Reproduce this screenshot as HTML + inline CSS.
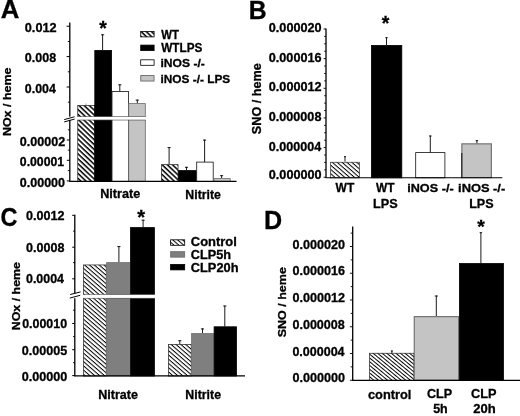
<!DOCTYPE html>
<html>
<head>
<meta charset="utf-8">
<title>Figure</title>
<style>
html,body{margin:0;padding:0;background:#fff;}
body{width:520px;height:416px;overflow:hidden;}
svg{display:block;font-family:"Liberation Sans",sans-serif;font-weight:bold;fill:#000;filter:grayscale(1) blur(0.35px);}
text{stroke:#000;stroke-width:0.3px;}
</style>
</head>
<body>
<svg width="520" height="416" viewBox="0 0 520 416">
<defs>
<pattern id="ha" patternUnits="userSpaceOnUse" width="3.57" height="3.57" patternTransform="rotate(43.5)">
<rect width="3.57" height="3.57" fill="#fff"/>
<rect width="3.57" height="1.5" fill="#000"/>
</pattern>
<pattern id="hb" patternUnits="userSpaceOnUse" width="3.2" height="3.2" patternTransform="rotate(41)">
<rect width="3.2" height="3.2" fill="#fff"/>
<rect width="3.2" height="1.0" fill="#000"/>
</pattern>
<pattern id="hd" patternUnits="userSpaceOnUse" width="2.9" height="2.9" patternTransform="rotate(39.5)">
<rect width="2.9" height="2.9" fill="#fff"/>
<rect width="2.9" height="0.95" fill="#000"/>
</pattern>
</defs>
<rect width="520" height="416" fill="#fff"/>
<text transform="translate(0.86 18.40) scale(1.006 1)" font-size="25.60">A</text>
<line x1="69.80" y1="22.60" x2="69.80" y2="181.60" stroke="#000" stroke-width="1.3"/>
<line x1="66.60" y1="26.25" x2="69.80" y2="26.25" stroke="#000" stroke-width="1"/>
<line x1="66.60" y1="56.60" x2="69.80" y2="56.60" stroke="#000" stroke-width="1"/>
<line x1="66.60" y1="87.00" x2="69.80" y2="87.00" stroke="#000" stroke-width="1"/>
<line x1="67.80" y1="41.50" x2="69.80" y2="41.50" stroke="#000" stroke-width="0.9"/>
<line x1="67.80" y1="71.80" x2="69.80" y2="71.80" stroke="#000" stroke-width="0.9"/>
<line x1="67.80" y1="102.20" x2="69.80" y2="102.20" stroke="#000" stroke-width="0.9"/>
<line x1="66.80" y1="140.00" x2="69.80" y2="140.00" stroke="#000" stroke-width="1"/>
<line x1="66.80" y1="160.30" x2="69.80" y2="160.30" stroke="#000" stroke-width="1"/>
<line x1="66.80" y1="180.90" x2="69.80" y2="180.90" stroke="#000" stroke-width="1"/>
<line x1="67.80" y1="129.80" x2="69.80" y2="129.80" stroke="#000" stroke-width="0.9"/>
<line x1="67.80" y1="150.10" x2="69.80" y2="150.10" stroke="#000" stroke-width="0.9"/>
<line x1="67.80" y1="170.60" x2="69.80" y2="170.60" stroke="#000" stroke-width="0.9"/>
<text transform="translate(24.79 32.27) scale(1.013 1)" font-size="12.58">0.012</text>
<text transform="translate(24.80 62.07) scale(0.997 1)" font-size="12.58">0.008</text>
<text transform="translate(24.80 92.67) scale(0.987 1)" font-size="12.58">0.004</text>
<text transform="translate(19.80 145.58) scale(1.010 1)" font-size="12.44">0.00002</text>
<text transform="translate(19.81 166.28) scale(0.987 1)" font-size="12.44">0.00001</text>
<text transform="translate(19.80 187.38) scale(1.006 1)" font-size="12.44">0.00000</text>
<text transform="translate(11.16 136.04) rotate(-90) scale(1.054 1)" font-size="11.81">NOx / heme</text>
<line x1="86.00" y1="103.60" x2="86.00" y2="105.30" stroke="#777" stroke-width="0.8"/>
<rect x="77.75" y="105.45" width="16.90" height="76.00" fill="url(#ha)" stroke="#222" stroke-width="0.7"/>
<line x1="102.60" y1="34.40" x2="102.60" y2="50.00" stroke="#000" stroke-width="0.9"/>
<line x1="101.05" y1="34.80" x2="104.15" y2="34.80" stroke="#000" stroke-width="0.9"/>
<rect x="94.80" y="50.40" width="16.80" height="131.00" fill="#000" stroke="#000" stroke-width="0.8"/>
<line x1="119.80" y1="84.40" x2="119.80" y2="91.30" stroke="#000" stroke-width="0.9"/>
<line x1="118.25" y1="84.80" x2="121.35" y2="84.80" stroke="#000" stroke-width="0.9"/>
<rect x="112.00" y="91.50" width="16.40" height="89.90" fill="#fff" stroke="#111" stroke-width="0.8"/>
<line x1="137.30" y1="99.70" x2="137.30" y2="103.40" stroke="#000" stroke-width="0.9"/>
<line x1="135.75" y1="100.10" x2="138.85" y2="100.10" stroke="#000" stroke-width="0.9"/>
<rect x="128.70" y="103.60" width="16.60" height="77.80" fill="#c4c4c4" stroke="#6a6a6a" stroke-width="0.8"/>
<line x1="169.10" y1="147.20" x2="169.10" y2="164.40" stroke="#000" stroke-width="0.9"/>
<line x1="167.55" y1="147.60" x2="170.65" y2="147.60" stroke="#000" stroke-width="0.9"/>
<rect x="161.35" y="164.65" width="16.70" height="16.80" fill="url(#ha)" stroke="#222" stroke-width="0.7"/>
<line x1="186.50" y1="166.90" x2="186.50" y2="170.30" stroke="#000" stroke-width="0.9"/>
<line x1="184.95" y1="167.30" x2="188.05" y2="167.30" stroke="#000" stroke-width="0.9"/>
<rect x="178.50" y="170.60" width="17.70" height="10.80" fill="#000" stroke="#000" stroke-width="0.8"/>
<line x1="204.60" y1="139.70" x2="204.60" y2="162.00" stroke="#000" stroke-width="0.9"/>
<line x1="203.05" y1="140.10" x2="206.15" y2="140.10" stroke="#000" stroke-width="0.9"/>
<rect x="196.70" y="162.10" width="16.50" height="19.30" fill="#fff" stroke="#111" stroke-width="0.8"/>
<line x1="221.60" y1="175.30" x2="221.60" y2="178.40" stroke="#000" stroke-width="0.9"/>
<line x1="220.05" y1="175.70" x2="223.15" y2="175.70" stroke="#000" stroke-width="0.9"/>
<rect x="213.90" y="178.60" width="16.30" height="2.80" fill="#c4c4c4" stroke="#6a6a6a" stroke-width="0.8"/>
<line x1="69.30" y1="181.30" x2="236.50" y2="181.30" stroke="#000" stroke-width="1.2"/>
<rect x="62" y="116.7" width="86" height="3.2" fill="#fff"/>
<line x1="77.40" y1="116.50" x2="145.70" y2="116.50" stroke="#444" stroke-width="0.6"/>
<line x1="77.40" y1="120.10" x2="145.70" y2="120.10" stroke="#444" stroke-width="0.6"/>
<line x1="64.20" y1="119.60" x2="74.60" y2="116.80" stroke="#000" stroke-width="1"/>
<line x1="64.20" y1="121.90" x2="74.60" y2="119.10" stroke="#000" stroke-width="1"/>
<text transform="translate(100.15 198.07) scale(0.989 1)" font-size="12.79">Nitrate</text>
<text transform="translate(185.37 198.57) scale(0.962 1)" font-size="12.79">Nitrite</text>
<rect x="140.70" y="31.40" width="13.40" height="5.50" fill="url(#ha)" stroke="#000" stroke-width="0.8"/>
<rect x="140.70" y="45.10" width="13.40" height="5.50" fill="#000" stroke="#000" stroke-width="0.8"/>
<rect x="140.70" y="59.80" width="13.40" height="5.50" fill="#fff" stroke="#000" stroke-width="0.8"/>
<rect x="140.75" y="75.55" width="13.30" height="5.50" fill="#c4c4c4" stroke="#6a6a6a" stroke-width="0.9"/>
<text transform="translate(161.30 38.60) scale(0.927 1)" font-size="12.22">WT</text>
<text transform="translate(161.30 52.48) scale(0.954 1)" font-size="12.30">WTLPS</text>
<text transform="translate(160.45 67.47) scale(1.038 1)" font-size="11.68">iNOS -/-</text>
<text transform="translate(160.47 83.07) scale(1.015 1)" font-size="11.68">iNOS -/- LPS</text>
<text transform="translate(99.35 35.34) scale(0.968 1)" font-size="20.13">*</text>
<text transform="translate(248.63 18.70) scale(0.961 1)" font-size="25.75">B</text>
<line x1="326.00" y1="28.60" x2="326.00" y2="177.80" stroke="#000" stroke-width="1.3"/>
<line x1="323.60" y1="177.25" x2="326.00" y2="177.25" stroke="#000" stroke-width="0.9"/>
<line x1="324.20" y1="169.84" x2="326.00" y2="169.84" stroke="#000" stroke-width="0.9"/>
<line x1="324.20" y1="162.43" x2="326.00" y2="162.43" stroke="#000" stroke-width="0.9"/>
<line x1="324.20" y1="155.01" x2="326.00" y2="155.01" stroke="#000" stroke-width="0.9"/>
<line x1="323.60" y1="147.60" x2="326.00" y2="147.60" stroke="#000" stroke-width="0.9"/>
<line x1="324.20" y1="140.19" x2="326.00" y2="140.19" stroke="#000" stroke-width="0.9"/>
<line x1="324.20" y1="132.78" x2="326.00" y2="132.78" stroke="#000" stroke-width="0.9"/>
<line x1="324.20" y1="125.36" x2="326.00" y2="125.36" stroke="#000" stroke-width="0.9"/>
<line x1="323.60" y1="117.95" x2="326.00" y2="117.95" stroke="#000" stroke-width="0.9"/>
<line x1="324.20" y1="110.54" x2="326.00" y2="110.54" stroke="#000" stroke-width="0.9"/>
<line x1="324.20" y1="103.12" x2="326.00" y2="103.12" stroke="#000" stroke-width="0.9"/>
<line x1="324.20" y1="95.71" x2="326.00" y2="95.71" stroke="#000" stroke-width="0.9"/>
<line x1="323.60" y1="88.30" x2="326.00" y2="88.30" stroke="#000" stroke-width="0.9"/>
<line x1="324.20" y1="80.89" x2="326.00" y2="80.89" stroke="#000" stroke-width="0.9"/>
<line x1="324.20" y1="73.48" x2="326.00" y2="73.48" stroke="#000" stroke-width="0.9"/>
<line x1="324.20" y1="66.06" x2="326.00" y2="66.06" stroke="#000" stroke-width="0.9"/>
<line x1="323.60" y1="58.65" x2="326.00" y2="58.65" stroke="#000" stroke-width="0.9"/>
<line x1="324.20" y1="51.24" x2="326.00" y2="51.24" stroke="#000" stroke-width="0.9"/>
<line x1="324.20" y1="43.83" x2="326.00" y2="43.83" stroke="#000" stroke-width="0.9"/>
<line x1="324.20" y1="36.41" x2="326.00" y2="36.41" stroke="#000" stroke-width="0.9"/>
<line x1="323.60" y1="29.00" x2="326.00" y2="29.00" stroke="#000" stroke-width="0.9"/>
<text transform="translate(268.79 178.78) scale(1.018 1)" font-size="12.44">0.000000</text>
<text transform="translate(268.80 150.88) scale(1.010 1)" font-size="12.44">0.000004</text>
<text transform="translate(268.79 120.58) scale(1.016 1)" font-size="12.44">0.000008</text>
<text transform="translate(268.79 90.88) scale(1.018 1)" font-size="12.44">0.000012</text>
<text transform="translate(268.79 61.68) scale(1.017 1)" font-size="12.44">0.000016</text>
<text transform="translate(268.79 31.58) scale(1.018 1)" font-size="12.44">0.000020</text>
<text transform="translate(260.86 134.13) rotate(-90) scale(1.048 1)" font-size="12.08">SNO / heme</text>
<line x1="345.00" y1="156.30" x2="345.00" y2="161.60" stroke="#000" stroke-width="0.9"/>
<line x1="344.00" y1="156.70" x2="346.00" y2="156.70" stroke="#000" stroke-width="0.9"/>
<rect x="330.55" y="162.25" width="29.00" height="15.60" fill="url(#hb)" stroke="#333" stroke-width="0.7"/>
<line x1="386.50" y1="37.30" x2="386.50" y2="45.00" stroke="#000" stroke-width="0.9"/>
<line x1="385.30" y1="37.70" x2="387.70" y2="37.70" stroke="#000" stroke-width="0.9"/>
<rect x="371.40" y="45.40" width="30.40" height="132.40" fill="#000" stroke="#000" stroke-width="0.8"/>
<line x1="430.30" y1="135.60" x2="430.30" y2="152.60" stroke="#000" stroke-width="0.9"/>
<line x1="429.00" y1="136.00" x2="431.60" y2="136.00" stroke="#000" stroke-width="0.9"/>
<rect x="415.70" y="152.60" width="29.20" height="25.20" fill="#fff" stroke="#111" stroke-width="0.8"/>
<line x1="476.90" y1="140.30" x2="476.90" y2="143.60" stroke="#000" stroke-width="0.9"/>
<line x1="475.70" y1="140.70" x2="478.10" y2="140.70" stroke="#000" stroke-width="0.9"/>
<rect x="461.85" y="143.85" width="29.50" height="33.80" fill="#c4c4c4" stroke="#6a6a6a" stroke-width="1.1"/>
<line x1="461.80" y1="153.00" x2="461.80" y2="178.20" stroke="#111" stroke-width="1"/>
<line x1="325.50" y1="177.75" x2="502.30" y2="177.75" stroke="#000" stroke-width="1.15"/>
<text transform="translate(335.60 192.40) scale(0.962 1)" font-size="12.51">WT</text>
<text transform="translate(376.00 192.40) scale(0.952 1)" font-size="12.51">WT</text>
<text transform="translate(372.94 207.58) scale(1.031 1)" font-size="12.30">LPS</text>
<text transform="translate(407.21 192.17) scale(1.097 1)" font-size="11.54">iNOS -/-</text>
<text transform="translate(458.10 192.17) scale(1.114 1)" font-size="11.54">iNOS -/-</text>
<text transform="translate(469.15 207.58) scale(1.022 1)" font-size="12.30">LPS</text>
<text transform="translate(381.85 29.88) scale(1.001 1)" font-size="19.46">*</text>
<text transform="translate(0.56 226.04) scale(0.914 1)" font-size="25.72">C</text>
<line x1="74.80" y1="214.70" x2="74.80" y2="293.60" stroke="#000" stroke-width="1.3"/>
<line x1="74.80" y1="297.00" x2="74.80" y2="376.20" stroke="#000" stroke-width="1.3"/>
<line x1="72.20" y1="215.30" x2="74.80" y2="215.30" stroke="#000" stroke-width="1"/>
<line x1="72.20" y1="247.20" x2="74.80" y2="247.20" stroke="#000" stroke-width="1"/>
<line x1="72.20" y1="278.80" x2="74.80" y2="278.80" stroke="#000" stroke-width="1"/>
<line x1="73.00" y1="231.10" x2="74.80" y2="231.10" stroke="#000" stroke-width="0.9"/>
<line x1="73.00" y1="262.60" x2="74.80" y2="262.60" stroke="#000" stroke-width="0.9"/>
<line x1="72.20" y1="323.50" x2="74.80" y2="323.50" stroke="#000" stroke-width="1"/>
<line x1="72.20" y1="349.70" x2="74.80" y2="349.70" stroke="#000" stroke-width="1"/>
<line x1="72.20" y1="375.60" x2="74.80" y2="375.60" stroke="#000" stroke-width="1"/>
<line x1="73.00" y1="310.20" x2="74.80" y2="310.20" stroke="#000" stroke-width="0.9"/>
<line x1="73.00" y1="336.60" x2="74.80" y2="336.60" stroke="#000" stroke-width="0.9"/>
<line x1="73.00" y1="362.70" x2="74.80" y2="362.70" stroke="#000" stroke-width="0.9"/>
<text transform="translate(26.00 220.18) scale(1.012 1)" font-size="12.44">0.0012</text>
<text transform="translate(26.00 251.78) scale(1.009 1)" font-size="12.44">0.0008</text>
<text transform="translate(26.00 283.48) scale(1.012 1)" font-size="12.30">0.0004</text>
<text transform="translate(22.20 328.18) scale(1.022 1)" font-size="12.16">0.00010</text>
<text transform="translate(21.80 354.58) scale(1.023 1)" font-size="12.30">0.00005</text>
<text transform="translate(21.79 380.88) scale(1.015 1)" font-size="12.44">0.00000</text>
<text transform="translate(20.38 330.24) rotate(-90) scale(1.115 1)" font-size="11.14">NOx / heme</text>
<rect x="83.45" y="264.95" width="22.80" height="111.10" fill="url(#hb)" stroke="#222" stroke-width="0.7"/>
<line x1="118.90" y1="246.20" x2="118.90" y2="262.40" stroke="#000" stroke-width="0.9"/>
<line x1="117.35" y1="246.60" x2="120.45" y2="246.60" stroke="#000" stroke-width="0.9"/>
<rect x="106.60" y="262.60" width="23.20" height="113.40" fill="#7f7f7f" stroke="#707070" stroke-width="0.8"/>
<line x1="143.10" y1="219.80" x2="143.10" y2="227.40" stroke="#000" stroke-width="0.9"/>
<line x1="141.55" y1="220.20" x2="144.65" y2="220.20" stroke="#000" stroke-width="0.9"/>
<rect x="130.50" y="227.60" width="23.90" height="148.40" fill="#000" stroke="#000" stroke-width="0.8"/>
<line x1="179.80" y1="340.30" x2="179.80" y2="344.20" stroke="#000" stroke-width="0.9"/>
<line x1="178.25" y1="340.70" x2="181.35" y2="340.70" stroke="#000" stroke-width="0.9"/>
<rect x="168.45" y="344.35" width="22.80" height="31.70" fill="url(#hb)" stroke="#222" stroke-width="0.7"/>
<line x1="202.50" y1="328.50" x2="202.50" y2="333.30" stroke="#000" stroke-width="0.9"/>
<line x1="200.95" y1="328.90" x2="204.05" y2="328.90" stroke="#000" stroke-width="0.9"/>
<rect x="191.60" y="333.50" width="21.90" height="42.50" fill="#7f7f7f" stroke="#707070" stroke-width="0.8"/>
<line x1="224.80" y1="305.60" x2="224.80" y2="326.60" stroke="#000" stroke-width="0.9"/>
<line x1="223.25" y1="306.00" x2="226.35" y2="306.00" stroke="#000" stroke-width="0.9"/>
<rect x="214.10" y="326.80" width="22.40" height="49.20" fill="#000" stroke="#000" stroke-width="0.8"/>
<line x1="74.30" y1="375.90" x2="245.00" y2="375.90" stroke="#000" stroke-width="1.2"/>
<rect x="66" y="294.6" width="92" height="3.6" fill="#fff"/>
<line x1="83.10" y1="294.40" x2="154.80" y2="294.40" stroke="#444" stroke-width="0.6"/>
<line x1="83.10" y1="298.40" x2="154.80" y2="298.40" stroke="#444" stroke-width="0.6"/>
<line x1="70.20" y1="294.50" x2="80.60" y2="291.90" stroke="#000" stroke-width="1"/>
<line x1="69.80" y1="298.10" x2="80.20" y2="295.30" stroke="#000" stroke-width="1"/>
<text transform="translate(98.15 399.38) scale(1.037 1)" font-size="12.11">Nitrate</text>
<text transform="translate(185.37 399.38) scale(1.019 1)" font-size="12.11">Nitrite</text>
<rect x="170.60" y="239.80" width="14.10" height="5.50" fill="url(#hb)" stroke="#000" stroke-width="0.8"/>
<rect x="170.65" y="251.65" width="14.00" height="5.50" fill="#7f7f7f" stroke="#707070" stroke-width="0.9"/>
<rect x="170.60" y="264.40" width="14.10" height="5.50" fill="#000" stroke="#000" stroke-width="0.8"/>
<text transform="translate(190.78 246.28) scale(1.060 1)" font-size="12.24">Control</text>
<text transform="translate(190.79 258.68) scale(1.063 1)" font-size="11.97">CLP5h</text>
<text transform="translate(190.79 271.78) scale(1.072 1)" font-size="11.97">CLP20h</text>
<text transform="translate(137.20 223.59) scale(1.000 1)" font-size="20.13">*</text>
<text transform="translate(263.90 229.40) scale(0.966 1)" font-size="26.04">D</text>
<line x1="352.70" y1="226.50" x2="352.70" y2="380.70" stroke="#000" stroke-width="1.3"/>
<line x1="349.90" y1="380.25" x2="352.70" y2="380.25" stroke="#000" stroke-width="0.9"/>
<line x1="350.70" y1="366.88" x2="352.70" y2="366.88" stroke="#000" stroke-width="0.9"/>
<line x1="349.90" y1="353.50" x2="352.70" y2="353.50" stroke="#000" stroke-width="0.9"/>
<line x1="350.70" y1="340.12" x2="352.70" y2="340.12" stroke="#000" stroke-width="0.9"/>
<line x1="349.90" y1="326.75" x2="352.70" y2="326.75" stroke="#000" stroke-width="0.9"/>
<line x1="350.70" y1="313.38" x2="352.70" y2="313.38" stroke="#000" stroke-width="0.9"/>
<line x1="349.90" y1="300.00" x2="352.70" y2="300.00" stroke="#000" stroke-width="0.9"/>
<line x1="350.70" y1="286.62" x2="352.70" y2="286.62" stroke="#000" stroke-width="0.9"/>
<line x1="349.90" y1="273.25" x2="352.70" y2="273.25" stroke="#000" stroke-width="0.9"/>
<line x1="350.70" y1="259.88" x2="352.70" y2="259.88" stroke="#000" stroke-width="0.9"/>
<line x1="349.90" y1="246.50" x2="352.70" y2="246.50" stroke="#000" stroke-width="0.9"/>
<line x1="350.70" y1="233.12" x2="352.70" y2="233.12" stroke="#000" stroke-width="0.9"/>
<text transform="translate(292.40 381.78) scale(1.014 1)" font-size="12.44">0.000000</text>
<text transform="translate(292.40 356.08) scale(1.006 1)" font-size="12.44">0.000004</text>
<text transform="translate(292.40 329.28) scale(1.012 1)" font-size="12.44">0.000008</text>
<text transform="translate(292.40 302.38) scale(1.014 1)" font-size="12.44">0.000012</text>
<text transform="translate(292.40 274.98) scale(1.013 1)" font-size="12.44">0.000016</text>
<text transform="translate(292.40 248.68) scale(1.014 1)" font-size="12.44">0.000020</text>
<text transform="translate(286.36 337.28) rotate(-90) scale(1.059 1)" font-size="11.81">SNO / heme</text>
<line x1="391.90" y1="350.60" x2="391.90" y2="353.20" stroke="#000" stroke-width="0.9"/>
<line x1="390.90" y1="351.00" x2="392.90" y2="351.00" stroke="#000" stroke-width="0.9"/>
<rect x="369.65" y="353.25" width="44.30" height="27.20" fill="url(#hd)" stroke="#222" stroke-width="0.7"/>
<line x1="436.30" y1="295.60" x2="436.30" y2="316.40" stroke="#000" stroke-width="0.9"/>
<line x1="434.75" y1="296.00" x2="437.85" y2="296.00" stroke="#000" stroke-width="0.9"/>
<rect x="414.25" y="316.65" width="44.40" height="63.60" fill="#c4c4c4" stroke="#6a6a6a" stroke-width="1.1"/>
<line x1="480.90" y1="232.30" x2="480.90" y2="263.20" stroke="#000" stroke-width="0.9"/>
<line x1="479.70" y1="232.70" x2="482.10" y2="232.70" stroke="#000" stroke-width="0.9"/>
<rect x="459.40" y="263.50" width="44.10" height="116.90" fill="#000" stroke="#000" stroke-width="0.8"/>
<line x1="352.20" y1="380.30" x2="520.00" y2="380.30" stroke="#000" stroke-width="1.2"/>
<text transform="translate(367.99 398.87) scale(1.013 1)" font-size="12.65">control</text>
<text transform="translate(426.90 397.87) scale(0.981 1)" font-size="12.86">CLP</text>
<text transform="translate(433.13 413.28) scale(1.041 1)" font-size="11.97">5h</text>
<text transform="translate(470.99 397.87) scale(0.990 1)" font-size="12.86">CLP</text>
<text transform="translate(473.34 413.28) scale(1.088 1)" font-size="11.97">20h</text>
<text transform="translate(477.20 232.95) scale(1.015 1)" font-size="19.19">*</text>
</svg>
</body>
</html>
